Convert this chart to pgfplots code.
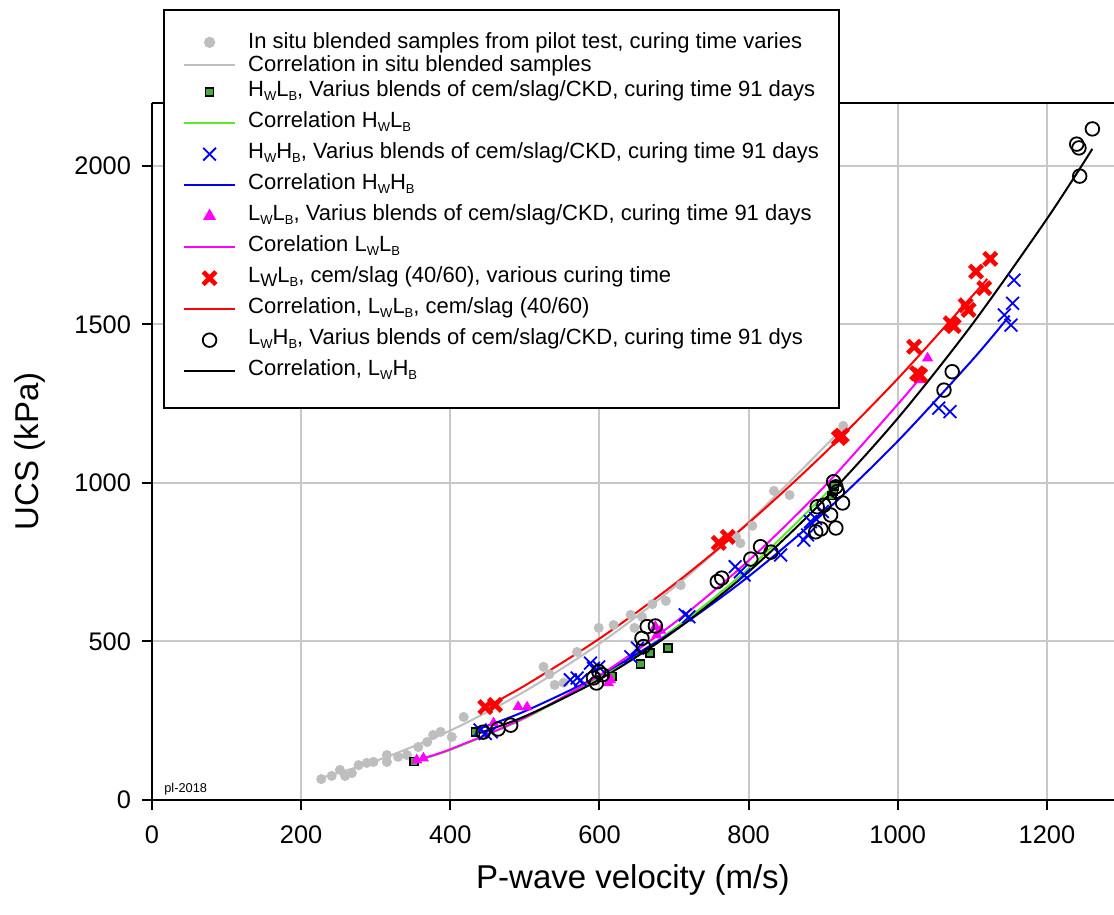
\documentclass[border=0pt]{standalone}
\usepackage{fontspec}
\setmainfont{Liberation Sans}
\usepackage{pgfplots}
\pgfplotsset{compat=1.18}
\definecolor{ptgray}{RGB}{190,190,190}
\definecolor{gridc}{RGB}{200,200,200}
\definecolor{lgreen}{RGB}{90,235,40}
\definecolor{sqgreen}{RGB}{70,170,60}
\definecolor{myblue}{RGB}{0,0,240}
\definecolor{mymag}{RGB}{255,0,255}
\definecolor{myred}{RGB}{255,0,0}
\newcommand{\sub}[1]{\raisebox{-2pt}{\fontsize{6.5}{6.5}\selectfont #1}}
\newcommand{\lst}{\rule[-5pt]{0pt}{14.5pt}}
\begin{document}
\begin{tikzpicture}
\begin{axis}[
 name=ax,
 scale only axis, width=481pt, height=348.7pt,
 xmin=0, xmax=1290, ymin=0, ymax=2200,
 axis x line*=box, axis y line*=left,
 axis line style={line width=1pt, -},
 tick align=outside, tick pos=left,
 major tick length=5pt,
 every tick/.style={black, line width=1pt},
 xtick={0,200,...,1200}, ytick={0,500,...,2000},
 grid=major, major grid style={color=gridc, line width=1pt},
 /pgf/number format/assume math mode=true,
 /pgf/number format/set thousands separator={},
 tick label style={font=\fontsize{12.7}{14}\selectfont},
 xticklabel style={yshift=-4.5pt},
 yticklabel style={xshift=-2pt},
 xlabel={P-wave velocity (m/s)}, ylabel={UCS (kPa)},
 label style={font=\fontsize{16.5}{19}\selectfont},
 xlabel style={at={(axis description cs:0.5,-0.1147)}, anchor=center},
 ylabel style={at={(axis description cs:-0.1268,0.5)}, anchor=center},
 legend image code/.code={\draw[mark repeat=2,mark phase=2,#1] plot coordinates {(0cm,0cm) (0.45cm,0cm) (0.9cm,0cm)};},
 legend style={at={(axis description cs:0.0114,1.1348)}, anchor=north west,
   draw=black, line width=1pt, fill=white, inner xsep=9.5pt, inner ysep=10.5pt,
   font=\fontsize{11}{13}\selectfont, row sep=0pt, column sep=5.5pt,
   nodes={inner sep=0.5pt, text depth=}},
 legend cell align=left,
]
% In situ
\addplot[only marks, mark=*, mark size=2.3pt, color=ptgray, mark options={fill=ptgray, draw=ptgray}] coordinates {
(227,66)(241,76)(252,95)(259,76)(268,85)(277,110)(288,117)(297,120)(315,142)(315,120)(330,136)(342,142)(357,167)(369,183)(377,205)(387,215)(402,199)(418,262)(525,420)(533,397)(540,363)(552,370)(570,467)(599,543)(619,552)(642,584)(647,543)(657,578)(671,618)(689,628)(709,678)(783,831)(789,810)(805,865)(834,975)(855,962)(927,1180)};
\addlegendentry{\rule{0pt}{8.5pt}In situ blended samples from pilot test, curing time varies}
\addplot[color=ptgray, line width=1pt, smooth, no marks] coordinates {
(225,69)(300,123)(400,219)(500,343)(600,493)(700,671)(800,877)(900,1110)(925,1172)};
\addlegendentry{Correlation in situ blended samples}
% HwLb
\addplot[only marks, mark=square*, mark size=2pt, mark options={draw=black, fill=sqgreen, line width=0.8pt}] coordinates {
(351,121)(434,215)(617,389)(655,429)(668,463)(692,479)(912,960)(914,975)(915,990)};
\addlegendentry{\lst H\sub{W}L\sub{B}, Varius blends of cem/slag/CKD, curing time 91 days}
\addplot[color=lgreen, line width=1pt, smooth, no marks] coordinates {
(350,121)(400,158)(500,258)(600,386)(700,540)(800,730)(900,958)(915,995)};
\addlegendentry{\lst Correlation H\sub{W}L\sub{B}}
% HwHb
\addplot[only marks, mark=x, mark size=4.5pt, color=myblue, mark options={line width=0.9pt}] coordinates {
(440,221)(447,210)(455,215)(561,379)(570,385)(575,378)(592,415)(599,420)(588,432)(642,452)(651,479)(715,584)(720,578)(782,736)(789,720)(794,710)(843,773)(874,820)(879,836)(883,878)(890,888)(899,910)(1055,1236)(1070,1225)(1143,1530)(1152,1498)(1154,1567)(1156,1640)};
\addlegendentry{\lst H\sub{W}H\sub{B}, Varius blends of cem/slag/CKD, curing time 91 days}
\addplot[color=myblue, line width=1pt, smooth, no marks] coordinates {
(434,221)(500,280)(600,393)(700,534)(800,705)(900,904)(1000,1132)(1100,1388)(1150,1528)};
\addlegendentry{\lst Correlation H\sub{W}H\sub{B}}
% LwLb
\addplot[only marks, mark=triangle*, mark size=2.8pt, color=mymag, mark options={fill=mymag, draw=mymag}] coordinates {
(355,126)(364,132)(458,243)(491,294)(503,293)(612,369)(615,379)(675,547)(677,520)(682,535)(1029,1325)(1040,1394)};
\addlegendentry{\lst L\sub{W}L\sub{B}, Varius blends of cem/slag/CKD, curing time 91 days}
\addplot[color=mymag, line width=1pt, smooth, no marks] coordinates {
(358,128)(400,160)(500,260)(600,393)(700,558)(800,755)(900,985)(1000,1248)(1033,1340)};
\addlegendentry{\lst Corelation L\sub{W}L\sub{B}}
% LwLb cem/slag
\addplot[only marks, mark=x, mark size=4.5pt, color=myred, mark options={line width=2.3pt}] coordinates {
(447,293)(460,300)(760,811)(772,830)(921,1142)(925,1150)(1022,1430)(1026,1346)(1030,1340)(1071,1504)(1075,1495)(1091,1561)(1095,1546)(1105,1667)(1116,1615)(1124,1707)};
\addlegendentry{\lst L\raisebox{-2pt}{\fontsize{9}{9}\selectfont W}L\sub{B}, cem/slag (40/60), various curing time}
\addplot[color=myred, line width=1pt, smooth, no marks] coordinates {
(445,290)(500,361)(600,509)(700,680)(800,874)(900,1090)(1000,1329)(1100,1590)(1120,1644)};
\addlegendentry{\lst Correlation, L\sub{W}L\sub{B}, cem/slag (40/60)}
% LwHb
\addplot[only marks, mark=o, mark size=3.4pt, color=black, mark options={line width=0.9pt}] coordinates {
(444,214)(464,224)(481,236)(592,385)(596,369)(599,405)(604,395)(657,510)(659,484)(664,547)(675,549)(758,689)(764,700)(803,760)(816,799)(830,782)(890,846)(897,855)(892,925)(901,930)(910,899)(914,1004)(917,988)(919,973)(926,937)(917,858)(1062,1293)(1073,1351)(1240,2069)(1243,2057)(1244,1968)(1261,2117)};
\addlegendentry{\lst L\sub{W}H\sub{B}, Varius blends of cem/slag/CKD, curing time 91 dys}
\addplot[color=black, line width=1pt, smooth, no marks] coordinates {
(431,205)(500,264)(600,380)(700,532)(800,720)(900,944)(1000,1204)(1100,1501)(1200,1833)(1261,2054)};
\addlegendentry{\lst Correlation, L\sub{W}H\sub{B}}
\node[anchor=base west, font=\fontsize{6.4}{7}\selectfont, inner sep=0pt] at (axis cs:16,25) {pl-2018};
\end{axis}
\pgfresetboundingbox
\path[use as bounding box] (-76pt,-57.5pt) rectangle (481pt,400pt);
\end{tikzpicture}
\end{document}
